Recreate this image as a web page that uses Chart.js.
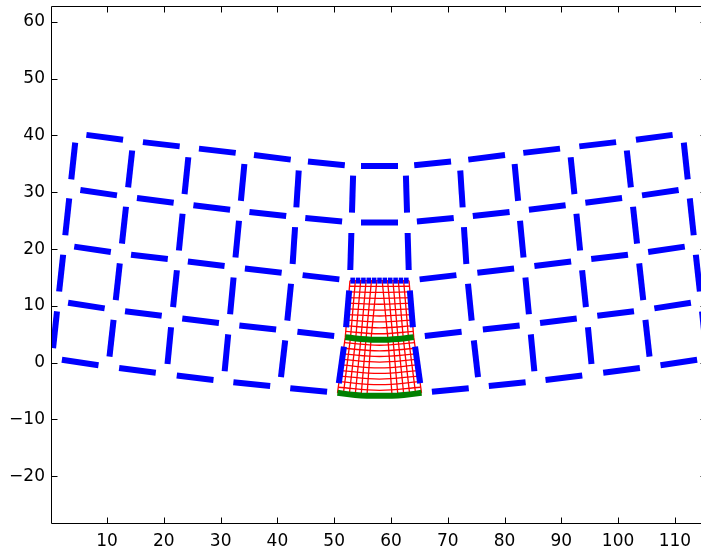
<!DOCTYPE html>
<html>
<head>
<meta charset="utf-8">
<script src="https://cdn.jsdelivr.net/npm/chart.js@4.4.1/dist/chart.umd.min.js"></script>
<style>
    html, body { margin: 0; padding: 0; background: #fff; overflow: hidden; }
    #wrap { width: 701px; height: 553px; overflow: hidden; }
    canvas { display: block; }
</style>
</head>
<body>
<div id="wrap"><canvas id="meshChart" width="712" height="553"></canvas></div>
<script>
// coarse mesh nodes (blue), one pair of arrays per row, bottom row first
const nodeX0 = [0.30, 10.23, 20.47, 30.54, 40.43, 50.58, 65.38, 75.53, 85.42, 95.49, 105.73, 115.66];
const nodeY0 = [0.76, -0.70, -2.02, -3.26, -4.30, -5.30, -5.30, -4.30, -3.26, -2.02, -0.70, 0.76];
const nodeX1 = [1.37, 11.34, 21.44, 31.50, 41.57, 51.95, 64.01, 74.39, 84.46, 94.52, 104.62, 114.59];
const nodeY1 = [10.84, 9.29, 8.02, 6.75, 5.66, 4.50, 4.50, 5.66, 6.75, 8.02, 9.29, 10.84];
const nodeX2 = [2.45, 12.43, 22.48, 32.45, 42.57, 52.78, 63.18, 73.39, 83.51, 93.48, 103.53, 113.51];
const nodeY2 = [20.70, 19.22, 18.03, 16.79, 15.63, 14.45, 14.45, 15.63, 16.79, 18.03, 19.22, 20.70];
const nodeX3 = [3.52, 13.52, 23.47, 33.40, 43.22, 53.08, 62.88, 72.74, 82.56, 92.49, 102.44, 112.44];
const nodeY3 = [30.66, 29.20, 27.95, 26.73, 25.62, 24.70, 24.70, 25.62, 26.73, 27.95, 29.20, 30.66];
const nodeX4 = [4.56, 14.61, 24.49, 34.35, 43.87, 53.38, 62.58, 72.09, 81.61, 91.47, 101.35, 111.40];
const nodeY4 = [40.35, 39.03, 37.89, 36.74, 35.56, 34.63, 34.63, 35.56, 36.74, 37.89, 39.03, 40.35];

// fine mesh (red) vertical lines: top, middle (green) and bottom (green) nodes
const fineTopX = [52.78, 53.73, 54.67, 55.62, 56.56, 57.51, 58.45, 59.40, 60.34, 61.29, 62.23, 63.18];
const fineTopY = [14.45, 14.45, 14.45, 14.45, 14.45, 14.45, 14.45, 14.45, 14.45, 14.45, 14.45, 14.45];
const fineMidX = [51.95, 52.87, 53.79, 54.70, 55.60, 56.48, 59.48, 60.36, 61.26, 62.17, 63.09, 64.01];
const fineMidY = [4.50, 4.38, 4.27, 4.18, 4.11, 4.06, 4.06, 4.11, 4.18, 4.27, 4.38, 4.50];
const fineBotX = [50.58, 51.62, 52.66, 53.70, 54.74, 55.77, 60.19, 61.22, 62.26, 63.30, 64.34, 65.38];
const fineBotY = [-5.30, -5.45, -5.58, -5.69, -5.78, -5.84, -5.84, -5.78, -5.69, -5.58, -5.45, -5.30];

// fine mesh horizontal lines, top to bottom: left end, centre, right end
const rowLeftX = [52.78, 52.70, 52.61, 52.53, 52.45, 52.37, 52.28, 52.20, 52.12, 52.03, 51.95, 51.81, 51.68, 51.54, 51.40, 51.27, 51.13, 50.99, 50.86, 50.72, 50.58];
const rowRightX = [63.18, 63.26, 63.35, 63.43, 63.51, 63.59, 63.68, 63.76, 63.84, 63.93, 64.01, 64.15, 64.28, 64.42, 64.56, 64.69, 64.83, 64.97, 65.10, 65.24, 65.38];
const rowEndY = [14.45, 13.46, 12.46, 11.47, 10.47, 9.48, 8.48, 7.49, 6.49, 5.50, 4.50, 3.52, 2.54, 1.56, 0.58, -0.40, -1.38, -2.36, -3.34, -4.32, -5.30];
const rowMidY = [14.45, 13.42, 12.37, 11.34, 10.29, 9.26, 8.22, 7.18, 6.14, 5.10, 4.06, 3.07, 2.08, 1.09, 0.10, -0.90, -1.89, -2.88, -3.87, -4.86, -5.85];
const fineCenterX = 57.98;

// axes
const xRange = [0.30, 115.66];
const yRange = [-28.4, 62.8];
const xTicks = [10, 20, 30, 40, 50, 60, 70, 80, 90, 100, 110];
const yTicks = [-20, -10, 0, 10, 20, 30, 40, 50, 60];

const BLUE = '#0000ff';
const GREEN = '#008000';
const RED = '#ff0000';
const DASH_PX = 37;

const nodeX = [nodeX0, nodeX1, nodeX2, nodeX3, nodeX4];
const nodeY = [nodeY0, nodeY1, nodeY2, nodeY3, nodeY4];

function segLen(ctx) {
    return Math.hypot(ctx.p1.x - ctx.p0.x, ctx.p1.y - ctx.p0.y);
}

// one dash centred on every edge, like the original plot
const centredDash = {
    borderDash: function (ctx) {
        let L = segLen(ctx);
        let d = Math.min(DASH_PX, L * 0.85);
        return [d, Math.max(L - d, 0.01)];
    },
    borderDashOffset: function (ctx) {
        let L = segLen(ctx);
        let d = Math.min(DASH_PX, L * 0.85);
        return (L + d) / 2;
    }
};

function pts(xs, ys) {
    return xs.map((x, i) => ({ x: x, y: ys[i] }));
}

function blueLine(data) {
    return { data: data, showLine: true, borderColor: BLUE, borderWidth: 6, borderCapStyle: 'butt', segment: centredDash, order: 1, clip: 0 };
}

let datasets = [];

// green lines
datasets.push({ data: pts(fineMidX, fineMidY), showLine: true, borderColor: GREEN, borderWidth: 6, order: 0, clip: 0 });
datasets.push({ data: pts(fineBotX, fineBotY), showLine: true, borderColor: GREEN, borderWidth: 6, order: 0, clip: 0 });

// blue rows
for (let r = 0; r < 5; r++) {
    if (r >= 3) {
        datasets.push(blueLine(pts(nodeX[r], nodeY[r])));
    }
    else {
        datasets.push(blueLine(pts(nodeX[r].slice(0, 6), nodeY[r].slice(0, 6))));
        datasets.push(blueLine(pts(nodeX[r].slice(6), nodeY[r].slice(6))));
    }
}

// blue columns
for (let c = 0; c < 12; c++) {
    datasets.push(blueLine(pts(nodeX.map(row => row[c]), nodeY.map(row => row[c]))));
}

// blue top edge of the fine mesh
datasets.push(blueLine(pts(fineTopX, fineTopY)));

// red fine mesh
for (let i = 0; i < fineTopX.length; i++) {
    datasets.push({
        data: [
            { x: fineTopX[i], y: fineTopY[i] },
            { x: fineMidX[i], y: fineMidY[i] },
            { x: fineBotX[i], y: fineBotY[i] }
        ],
        showLine: true, borderColor: RED, borderWidth: 1.3, order: 2, clip: 0
    });
}
for (let r = 0; r < rowEndY.length; r++) {
    datasets.push({
        data: [
            { x: rowLeftX[r], y: rowEndY[r] },
            { x: fineCenterX, y: rowMidY[r] },
            { x: rowRightX[r], y: rowEndY[r] }
        ],
        showLine: true, borderColor: RED, borderWidth: 1.3, tension: 0.4, order: 2, clip: 0
    });
}

// box and inward tick marks
const axisFrame = {
    id: 'axisFrame',
    afterDraw: function (chart) {
        const { ctx, chartArea: a, scales: { x, y } } = chart;
        const L = Math.round(a.left) - 0.5;
        const R = Math.round(a.right) - 0.5;
        const T = Math.round(a.top) + 0.5;
        const B = Math.round(a.bottom) - 0.5;
        ctx.save();
        ctx.strokeStyle = '#000';
        ctx.lineWidth = 1;
        ctx.beginPath();
        ctx.rect(L, T, R - L, B - T);
        x.ticks.forEach(t => {
            let px = Math.round(x.getPixelForValue(t.value)) + 0.5;
            ctx.moveTo(px, B); ctx.lineTo(px, B - 6);
            ctx.moveTo(px, T); ctx.lineTo(px, T + 6);
        });
        y.ticks.forEach(t => {
            let py = Math.round(y.getPixelForValue(t.value)) + 0.5;
            ctx.moveTo(L, py); ctx.lineTo(L + 6, py);
            ctx.moveTo(R, py); ctx.lineTo(R - 6, py);
        });
        ctx.stroke();
        ctx.restore();
    }
};

const tickFont = { family: '"DejaVu Sans", sans-serif', size: 17 };
const tickLabel = v => (v < 0 ? '\u2212' + Math.abs(v) : String(v));

new Chart(document.getElementById('meshChart'), {
    type: 'scatter',
    data: { datasets: datasets },
    options: {
        responsive: false,
        devicePixelRatio: 1,
        animation: false,
        events: [],
        layout: { padding: { top: 6, right: 5, left: 0, bottom: 0 } },
        elements: { point: { radius: 0, hoverRadius: 0 } },
        plugins: { legend: { display: false }, tooltip: { enabled: false } },
        scales: {
            x: {
                type: 'linear',
                min: xRange[0],
                max: xRange[1],
                bounds: 'data',
                grid: { display: false, drawTicks: false },
                border: { display: false },
                ticks: { maxRotation: 0, autoSkip: false, padding: 7, color: '#000', font: tickFont, callback: tickLabel },
                afterBuildTicks: function (scale) {
                    scale.ticks = xTicks.map(v => ({ value: v }));
                },
                afterFit: function (scale) {
                    scale.height = 29;
                    scale.paddingLeft = 0;
                    scale.paddingRight = 0;
                }
            },
            y: {
                type: 'linear',
                min: yRange[0],
                max: yRange[1],
                bounds: 'data',
                grid: { display: false, drawTicks: false },
                border: { display: false },
                ticks: { autoSkip: false, padding: 7, color: '#000', font: tickFont, callback: tickLabel },
                afterBuildTicks: function (scale) {
                    scale.ticks = yTicks.map(v => ({ value: v }));
                },
                afterFit: function (scale) {
                    scale.width = 52;
                    scale.paddingTop = 0;
                    scale.paddingBottom = 0;
                }
            }
        }
    },
    plugins: [axisFrame]
});
</script>
</body>
</html>
